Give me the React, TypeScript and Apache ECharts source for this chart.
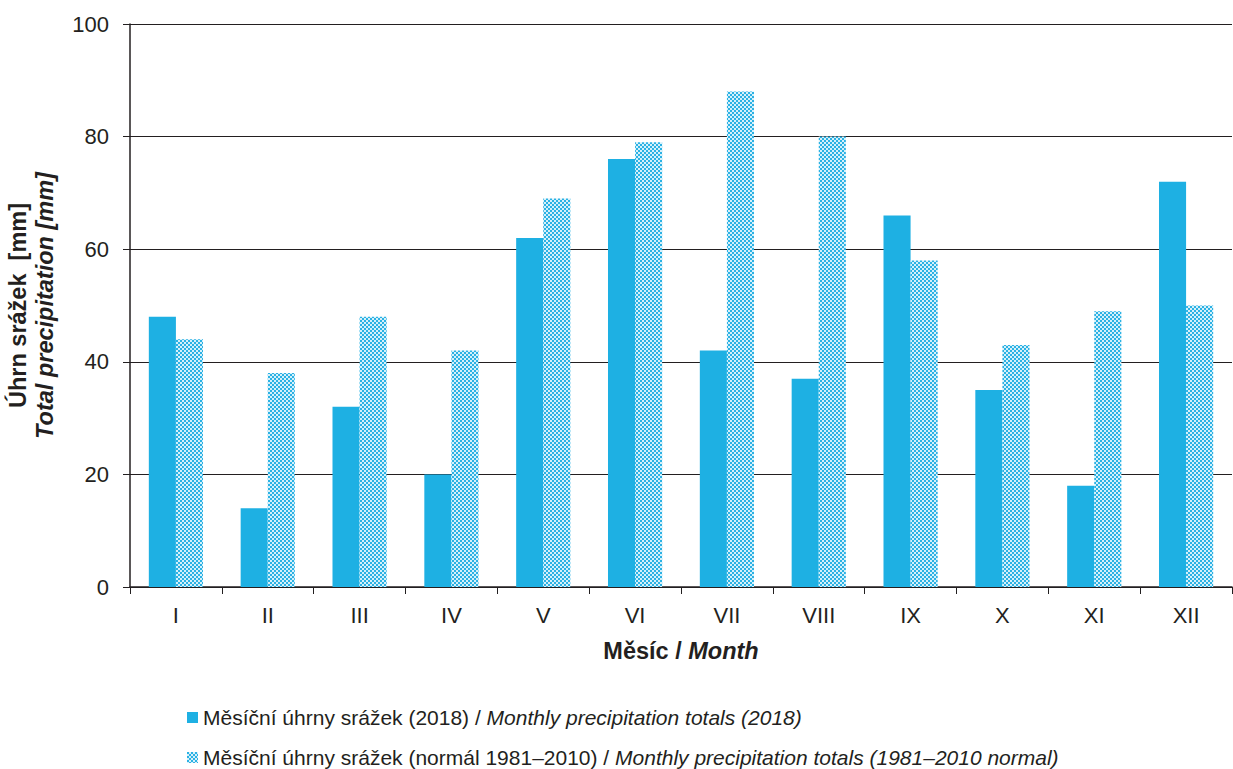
import React, { useEffect, useRef } from "react";
import * as echarts from "echarts";

const months = ["I", "II", "III", "IV", "V", "VI", "VII", "VIII", "IX", "X", "XI", "XII"];
const precip2018 = [48, 14, 32, 20, 62, 76, 42, 37, 66, 35, 18, 72];
const precipNormal = [44, 38, 48, 42, 69, 79, 88, 80, 58, 43, 49, 50];
const yTicks = { min: 0, max: 100, interval: 20 };
const seriesNames = ["2018", "normal"];
const legendLabels = [
  "Měsíční úhrny srážek (2018) / {i|Monthly precipitation totals (2018)}",
  "Měsíční úhrny srážek (normál 1981–2010) / {i|Monthly precipitation totals (1981–2010 normal)}",
];

const BLUE = "#1eb0e3";
const INK = "#231f20";

function makePattern(): HTMLCanvasElement {
  const c = document.createElement("canvas");
  c.width = 4;
  c.height = 4;
  const ctx = c.getContext("2d")!;
  ctx.fillStyle = "#d6f0fa";
  ctx.fillRect(0, 0, 4, 4);
  ctx.fillStyle = "#2bb2e4";
  ctx.fillRect(0, 0, 2, 2);
  ctx.fillRect(2, 2, 2, 2);
  return c;
}

export default function App() {
  const ref = useRef<HTMLDivElement>(null);
  useEffect(() => {
    const chart = echarts.init(ref.current!, null, { renderer: "svg" });
    const pattern = { image: makePattern(), repeat: "repeat" as const };
    const font = "Liberation Sans, Arial, sans-serif";
    const legendText = {
      fontSize: 21,
      color: INK,
      fontFamily: font,
      rich: {
        i: { fontStyle: "italic", fontSize: 21, color: INK, fontFamily: font },
      },
    };
    const mkLegend = (idx: number, top: number) => ({
      orient: "horizontal",
      left: 182,
      top,
      itemWidth: 11,
      itemHeight: 11,
      icon: "rect",
      itemGap: 6,
      data: [seriesNames[idx]],
      textStyle: legendText,
      formatter: () => legendLabels[idx],
    });
    chart.setOption({
      animation: false,
      textStyle: { fontFamily: font, color: INK },
      grid: { left: 130, right: 1, top: 24, bottom: 182, containLabel: false, outerBoundsMode: "none" },
      legend: [mkLegend(0, 702), mkLegend(1, 742)],
      xAxis: {
        type: "category",
        data: months,
        boundaryGap: true,
        name: "{b|Měsíc / }{bi|Month}",
        nameLocation: "middle",
        nameGap: 52,
        nameTextStyle: {
          rich: {
            b: { fontWeight: "bold", fontSize: 23.5, color: INK, fontFamily: font },
            bi: { fontWeight: "bold", fontStyle: "italic", fontSize: 23.5, color: INK, fontFamily: font },
          },
        },
        axisLine: { lineStyle: { color: INK, width: 1.5 } },
        axisTick: { show: true, interval: 0, length: 7, lineStyle: { color: INK } },
        axisLabel: { fontSize: 22, color: INK, margin: 17, interval: 0 },
      },
      yAxis: {
        type: "value",
        min: yTicks.min,
        max: yTicks.max,
        interval: yTicks.interval,
        name: "{b|Úhrn srážek  [mm]}\n{bi|Total precipitation [mm]}",
        nameLocation: "middle",
        nameRotate: 90,
        nameGap: 72,
        nameTextStyle: {
          rich: {
            b: { fontWeight: "bold", fontSize: 23.5, color: INK, fontFamily: font, lineHeight: 27 },
            bi: { fontWeight: "bold", fontStyle: "italic", fontSize: 23.5, color: INK, fontFamily: font, lineHeight: 27 },
          },
        },
        axisLine: { show: true, lineStyle: { color: INK, width: 1.5 } },
        axisTick: { show: true, length: 7, lineStyle: { color: INK } },
        axisLabel: { fontSize: 22, color: INK, margin: 21 },
        splitLine: { show: true, lineStyle: { color: INK, width: 1 } },
      },
      series: [
        {
          name: seriesNames[0],
          type: "bar",
          data: precip2018,
          barGap: "0%",
          barCategoryGap: "41%",
          itemStyle: { color: BLUE },
        },
        {
          name: seriesNames[1],
          type: "bar",
          data: precipNormal,
          itemStyle: { color: pattern },
        },
      ],
    });
    return () => chart.dispose();
  }, []);
  return (
    <div
      ref={ref}
      style={{ position: "fixed", left: 0, top: 0, width: 1233, height: 769, background: "#fff" }}
    />
  );
}
